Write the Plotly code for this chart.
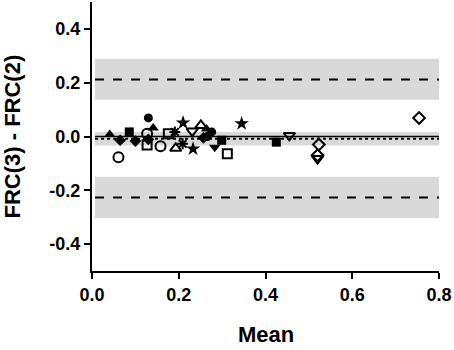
import plotly.graph_objects as go

# Bland-Altman statistics
bias = -0.008
bias_ci = [-0.033, 0.017]
upper_loa = 0.212
upper_ci = [0.137, 0.289]
lower_loa = -0.227
lower_ci = [-0.304, -0.150]
band_x = [0.007, 0.8]

# Data points grouped by symbol
groups = {
    "circle": ([0.130, 0.266, 0.276], [0.069, 0.000, 0.017]),
    "circle-open": ([0.061, 0.127, 0.158], [-0.077, 0.010, -0.036]),
    "square": ([0.086, 0.299, 0.425], [0.017, -0.014, -0.021]),
    "square-open": ([0.127, 0.176, 0.312], [-0.032, 0.010, -0.064]),
    "triangle-up": ([0.041, 0.141, 0.264], [0.007, 0.032, 0.028]),
    "triangle-up-open": ([0.193, 0.251], [-0.044, 0.041]),
    "triangle-down": ([0.283], [-0.040]),
    "triangle-down-open": ([0.231, 0.455, 0.520], [0.020, 0.004, -0.082]),
    "diamond": ([0.065, 0.100, 0.130, 0.257], [-0.014, -0.017, -0.011, -0.005]),
    "diamond-open": ([0.523, 0.520, 0.754], [-0.030, -0.070, 0.069]),
    "star": ([0.210, 0.233, 0.345], [0.051, -0.046, 0.048]),
    "asterisk-open": ([0.191, 0.209], [0.017, -0.027]),
}

x_ticks = [0.0, 0.2, 0.4, 0.6, 0.8]
y_ticks = [-0.4, -0.2, 0.0, 0.2, 0.4]
x_title = "Mean"
y_title = "FRC(3) - FRC(2)"

fig = go.Figure()

band_color = "#d9d9d9"
for lo, hi in [upper_ci, bias_ci, lower_ci]:
    fig.add_shape(type="rect", xref="x", yref="y", x0=band_x[0], x1=band_x[1],
                  y0=lo, y1=hi, fillcolor=band_color, line=dict(width=0), layer="below")

fig.add_shape(type="line", xref="x", yref="y", x0=band_x[0], x1=band_x[1], y0=0, y1=0,
              line=dict(color="black", width=1.5), layer="below")
fig.add_shape(type="line", xref="x", yref="y", x0=band_x[0], x1=band_x[1], y0=bias, y1=bias,
              line=dict(color="black", width=2, dash="dot"), layer="below")
for v in [upper_loa, lower_loa]:
    fig.add_shape(type="line", xref="x", yref="y", x0=band_x[0], x1=band_x[1], y0=v, y1=v,
                  line=dict(color="black", width=2, dash="dash"), layer="below")

for sym, (xs, ys) in groups.items():
    is_open = sym.endswith("-open")
    size = 9
    if sym.startswith("star"):
        size = 11
    if sym.startswith("triangle"):
        size = 10
    if sym.startswith("circle-open"):
        size = 10
    fig.add_trace(go.Scatter(
        x=xs, y=ys, mode="markers",
        marker=dict(symbol=sym, size=size, color="black",
                    line=dict(color="black", width=2 if is_open else 0)),
        showlegend=False, cliponaxis=False,
    ))

font_family = "Liberation Sans, Arial, sans-serif"
fig.update_layout(
    width=454, height=350,
    margin=dict(l=92, r=15, t=2, b=79),
    paper_bgcolor="white", plot_bgcolor="white",
    font=dict(family=font_family, color="black", size=18, weight="bold"),
    showlegend=False,
)
fig.add_annotation(text=x_title, xref="paper", yref="paper", x=0.5, y=0,
                   xanchor="center", yanchor="middle", yshift=-63, showarrow=False,
                   borderpad=0, font=dict(size=22, weight="bold"))
fig.add_annotation(text=y_title, xref="paper", yref="paper", x=0, y=0.5,
                   xanchor="center", yanchor="middle", xshift=-80, textangle=-90,
                   showarrow=False, font=dict(size=22, weight="bold"))
fig.update_xaxes(
    range=[0, 0.8], tickvals=x_ticks, ticktext=[f"{v:.1f}" for v in x_ticks],
    showline=True, linecolor="black", linewidth=2, automargin=False,
    ticks="outside", ticklen=6, tickwidth=2, tickcolor="black",
    showgrid=False, zeroline=False,
    tickfont=dict(size=18, weight="bold"),
)
fig.update_yaxes(
    range=[-0.5, 0.5], tickvals=y_ticks, ticktext=[f"{v:.1f}" for v in y_ticks],
    showline=True, linecolor="black", linewidth=2, automargin=False,
    ticks="outside", ticklen=6, tickwidth=2, tickcolor="black",
    showgrid=False, zeroline=False,
    tickfont=dict(size=18, weight="bold"),
)

fig.write_html(
    "out.html",
    config={"displayModeBar": False},
    post_script="document.body.style.margin='0';document.body.style.padding='0';",
)
